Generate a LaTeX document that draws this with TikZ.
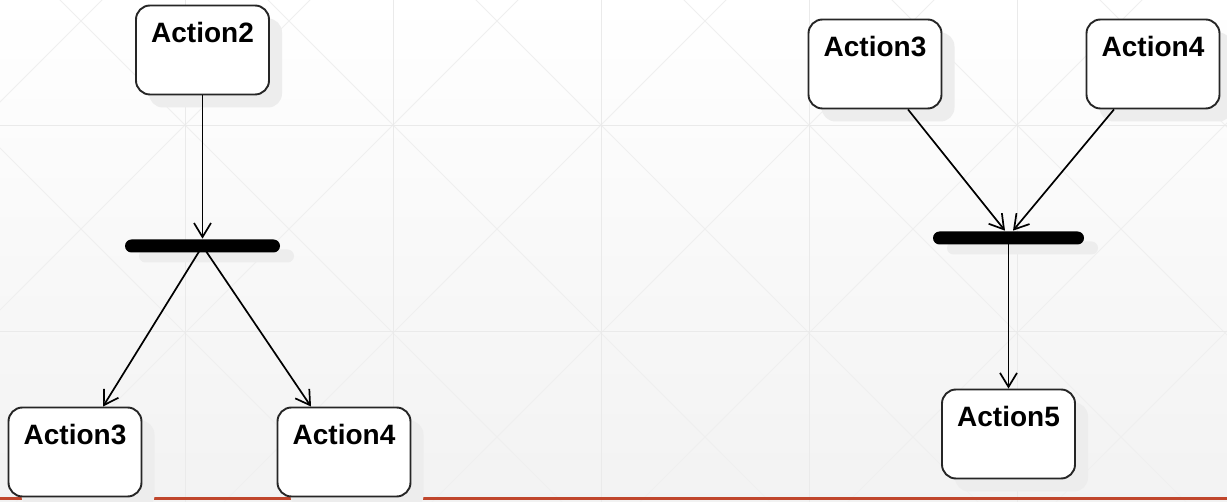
\documentclass[tikz,border=0pt]{standalone}
\usepackage{fontspec}
\setmainfont{Liberation Sans}
\usetikzlibrary{positioning,arrows.meta,shadows}
\definecolor{redline}{HTML}{C0462C}
\definecolor{gridgray}{HTML}{EAEAEA}
\definecolor{diaggray}{HTML}{EFEFEF}

\begin{document}
\begin{tikzpicture}[x=1pt,y=-1pt,>={Straight Barb[length=14pt,width=17pt]},
    line width=1.7pt,
    action/.style={draw=black!85,line width=1.9pt,rounded corners=14pt,fill=white,
      minimum width=133pt,inner sep=0pt,text height=37pt,text depth=52pt,
      font=\bfseries\fontsize{28}{30}\selectfont,
      drop shadow={shadow xshift=13pt,shadow yshift=-13pt,fill=black!7,opacity=1}},
    bar/.style={fill=black,rounded corners=6.5pt,minimum height=13pt,inner sep=0pt,
      drop shadow={shadow xshift=14pt,shadow yshift=-10pt,fill=black!7,opacity=1}},
    gridline/.style={draw=gridgray,line width=0.8pt},
    diagline/.style={draw=diaggray,line width=0.8pt}]

  \useasboundingbox (0,0) rectangle (1227,502);

  % background
  \begin{scope}
    \clip (0,0) rectangle (1227,502);
    \shade[top color=white,bottom color=black!5] (0,0) rectangle (1227,502);
    \foreach \c in {-148,60,268,476,684,892,1100}
      \draw[diagline] (\c-10,-10) -- (\c+520,520);
    \foreach \c in {102,310,518,726,934,1142,1350,1558}
      \draw[diagline] (\c+10,-10) -- (\c-520,520);
    \foreach \x in {185,393,601,809,1017}
      \draw[gridline] (\x,0) -- (\x,502);
    \foreach \y in {125,331}
      \draw[gridline] (0,\y) -- (1227,\y);
  \end{scope}
  \draw[redline,line width=3pt] (0,498.5) -- (1227,498.5);

  % fork
  \node[action] (act2) at (202.5,50) {Action2};
  \node[bar,minimum width=155pt] (fork) at (202.5,246) {};
  \node[action] (act3) at (75,452) {Action3};
  \node[action] (act4) at (344,452) {Action4};

  % join
  \node[action] (act3b) at (875,64) {Action3};
  \node[action] (act4b) at (1153,64) {Action4};
  \node[bar,minimum width=151pt] (join) at (1008.5,238) {};
  \node[action] (act5) at (1008.5,434) {Action5};

  \path[->]
    (act2) edge (fork)
    (fork.center) edge ([xshift=28pt]act3.north)
    (fork.center) edge ([xshift=-33pt]act4.north)
    ([xshift=33pt]act3b.south) edge ([xshift=-3.5pt]join.north)
    ([xshift=-39pt]act4b.south) edge ([xshift=4.5pt]join.north)
    (join.center) edge (act5);

\end{tikzpicture}
\end{document}
